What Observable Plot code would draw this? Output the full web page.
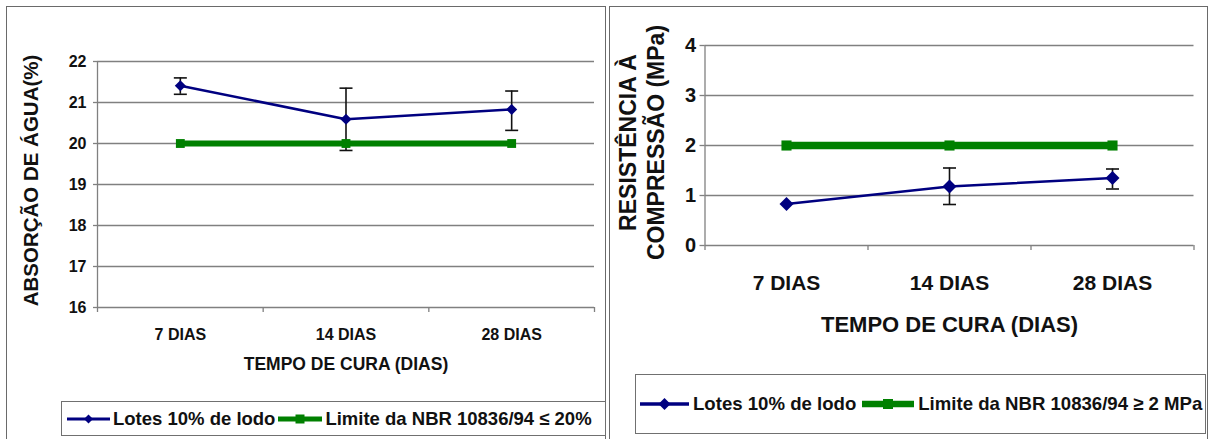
<!DOCTYPE html>
<html>
<head>
<meta charset="utf-8">
<script src="https://cdn.jsdelivr.net/npm/d3@7"></script>
<script src="https://cdn.jsdelivr.net/npm/@observablehq/plot@0.6"></script>
<style>
  body { margin: 0; width: 1215px; height: 439px; position: relative; overflow: hidden; background: #fff;
         font-family: "Liberation Sans", Arial, sans-serif; }
  .panel { position: absolute; border: 1px solid #6a6a6a; box-sizing: border-box; }
  .chart { position: absolute; }
  .legend { position: absolute; border: 1px solid #707070; box-sizing: border-box; display: flex; align-items: center;
            white-space: nowrap; overflow: hidden; font-weight: bold; color: #111; background: #fff; }
  .legend svg { flex: none; display: block; }
</style>
</head>
<body>
<div class="panel" style="left:6px;top:6px;width:600px;height:440px"></div>
<div class="panel" style="left:609px;top:6px;width:599px;height:440px"></div>
<div id="absorcao" class="chart" style="left:7px;top:7px"></div>
<div id="resistencia" class="chart" style="left:610px;top:7px"></div>
<div id="legendA" class="legend" style="left:61px;top:401px;width:545px;height:35px;font-size:18.5px;padding-left:5px"></div>
<div id="legendR" class="legend" style="left:635px;top:374px;width:571px;height:60px;font-size:18.6px;padding-left:4px"></div>
<script>
// Curing-time categories shared by both charts
const categories = ["7 DIAS", "14 DIAS", "28 DIAS"];

// Water absorption (%) — mean, error-bar bounds and NBR limit
const absorcaoMedia = [21.41, 20.59, 20.83];
const absorcaoMin = [21.2, 19.83, 20.32];
const absorcaoMax = [21.6, 21.35, 21.28];
const absorcaoLimite = [20, 20, 20];
const absorcaoTicks = [16, 17, 18, 19, 20, 21, 22];

// Compressive strength (MPa) — mean, error-bar bounds and NBR limit
const resistenciaMedia = [0.83, 1.18, 1.35];
const resistenciaMin = [null, 0.82, 1.13];
const resistenciaMax = [null, 1.55, 1.53];
const resistenciaLimite = [2, 2, 2];
const resistenciaTicks = [0, 1, 2, 3, 4];

const serieLotes = "Lotes 10% de lodo";
const limiteAbsorcaoTexto = "Limite da NBR 10836/94 ≤ 20%";
const limiteResistenciaTexto = "Limite da NBR 10836/94 ≥ 2 MPa";
const tituloX = "TEMPO DE CURA (DIAS)";

const NAVY = "#000080", GREEN = "#008000", GRID = "#808080", BAR = "#111";

// horizontal cap for the error bars; r gives the half width in pixels
const cap = {
  draw(ctx, size) {
    const w = Math.sqrt(size / Math.PI);
    ctx.moveTo(-w, 0);
    ctx.lineTo(w, 0);
  }
};

function rows(media, min, max, limite) {
  return categories.map((c, i) => ({
    categoria: c, pos: i + 0.5, media: media[i], min: min[i], max: max[i], limite: limite[i]
  }));
}

function chart(o) {
  const data = rows(o.media, o.min, o.max, o.limite);
  const bars = data.filter(d => d.min != null);
  return Plot.plot({
    width: o.width, height: o.height,
    marginLeft: o.ml, marginRight: o.mr, marginTop: o.mt, marginBottom: o.mb,
    x: {domain: [0, categories.length], label: null},
    y: {domain: [o.ticks[0], o.ticks[o.ticks.length - 1]], label: null},
    style: {fontFamily: "'Liberation Sans', Arial, sans-serif", fontWeight: "bold", color: "#111",
            background: "transparent", overflow: "visible"},
    marks: [
      Plot.ruleY(o.ticks, {stroke: GRID, strokeWidth: 1.3}),
      Plot.ruleX([0], {stroke: GRID, strokeWidth: 1.3}),
      Plot.axisY({ticks: o.ticks, tickFormat: d3.format("d"), tickSize: o.yTickSize, tickPadding: o.yTickPadding,
                  fontSize: o.tickFont, stroke: GRID, strokeWidth: 1.3, label: null}),
      Plot.axisX({ticks: d3.range(categories.length + 1), tickFormat: () => "", tickSize: 5,
                  stroke: GRID, strokeWidth: 1.3, label: null}),
      Plot.axisX({ticks: data.map(d => d.pos), tickSize: 0, tickPadding: o.xTickPadding,
                  tickFormat: p => categories[Math.floor(p)], fontSize: o.xFont, label: null}),
      Plot.ruleX(bars, {x: "pos", y1: "min", y2: "max", stroke: BAR, strokeWidth: 1.6}),
      Plot.dot(bars, {x: "pos", y: "min", symbol: cap, r: 6.5, stroke: BAR, strokeWidth: 1.6, fill: "none"}),
      Plot.dot(bars, {x: "pos", y: "max", symbol: cap, r: 6.5, stroke: BAR, strokeWidth: 1.6, fill: "none"}),
      Plot.line(data, {x: "pos", y: "limite", stroke: GREEN, strokeWidth: o.greenWidth}),
      Plot.dot(data, {x: "pos", y: "limite", symbol: "square", r: o.squareR, fill: GREEN}),
      Plot.line(data, {x: "pos", y: "media", stroke: NAVY, strokeWidth: 2.6}),
      Plot.dot(data, {x: "pos", y: "media", symbol: "diamond2", r: o.diamondR, fill: NAVY}),
      Plot.text([tituloX], {frameAnchor: "bottom", textAnchor: "middle", lineAnchor: "top",
                            dy: o.xTitleDy, fontSize: o.xTitleFont}),
      Plot.text([o.yTitle], {frameAnchor: "left", textAnchor: "middle", lineAnchor: "middle", rotate: -90,
                             dx: o.yTitleDx, dy: o.yTitleDy, fontSize: o.yTitleFont, lineHeight: 1.2})
    ]
  });
}

document.getElementById("absorcao").append(chart({
  media: absorcaoMedia, min: absorcaoMin, max: absorcaoMax, limite: absorcaoLimite, ticks: absorcaoTicks,
  width: 598, height: 380, ml: 90, mr: 11, mt: 54, mb: 80,
  yTickSize: 4, yTickPadding: 7, tickFont: 16, xFont: 16, xTickPadding: 21,
  xTitleDy: 50.5, xTitleFont: 17.5,
  yTitle: "ABSORÇÃO DE ÁGUA(%)", yTitleDx: -67.5, yTitleDy: -4, yTitleFont: 20.5,
  greenWidth: 6, squareR: 5, diamondR: 5
}));

document.getElementById("resistencia").append(chart({
  media: resistenciaMedia, min: resistenciaMin, max: resistenciaMax, limite: resistenciaLimite, ticks: resistenciaTicks,
  width: 596, height: 350, ml: 94.5, mr: 12.5, mt: 38, mb: 112,
  yTickSize: 5, yTickPadding: 4, tickFont: 20, xFont: 21, xTickPadding: 30,
  xTitleDy: 71, xTitleFont: 22,
  yTitle: "RESISTÊNCIA À\nCOMPRESSÃO (MPa)", yTitleDx: -64, yTitleDy: -3, yTitleFont: 23,
  greenWidth: 7.5, squareR: 5.7, diamondR: 6.3
}));

// legend entries: a short line with the series marker, followed by its label
function swatch(color, width, lineWidth, marker, size) {
  const s = d3.create("svg").attr("width", width).attr("height", 18);
  s.append("line").attr("x1", 0).attr("x2", width).attr("y1", 9).attr("y2", 9)
    .attr("stroke", color).attr("stroke-width", lineWidth);
  const m = marker === "diamond"
    ? `M${width / 2},${9 - size}L${width / 2 + size},9L${width / 2},${9 + size}L${width / 2 - size},9Z`
    : `M${width / 2 - size},${9 - size}h${2 * size}v${2 * size}h${-2 * size}Z`;
  s.append("path").attr("d", m).attr("fill", color);
  return s.node();
}

function legend(id, items, gapAfterSwatch, gapAfterText) {
  const el = document.getElementById(id);
  items.forEach((it, i) => {
    el.append(swatch(it.color, it.width, it.lineWidth, it.marker, it.size));
    const span = document.createElement("span");
    span.textContent = it.label;
    span.style.marginLeft = gapAfterSwatch + "px";
    if (i < items.length - 1) span.style.marginRight = gapAfterText + "px";
    el.append(span);
  });
}

legend("legendA", [
  {label: serieLotes, color: NAVY, width: 43, lineWidth: 3, marker: "diamond", size: 4.5},
  {label: limiteAbsorcaoTexto, color: GREEN, width: 44, lineWidth: 5, marker: "square", size: 4.5}
], 3, 3);

legend("legendR", [
  {label: serieLotes, color: NAVY, width: 49, lineWidth: 3.5, marker: "diamond", size: 6},
  {label: limiteResistenciaTexto, color: GREEN, width: 52, lineWidth: 6.5, marker: "square", size: 5}
], 4, 6);
</script>
</body>
</html>
